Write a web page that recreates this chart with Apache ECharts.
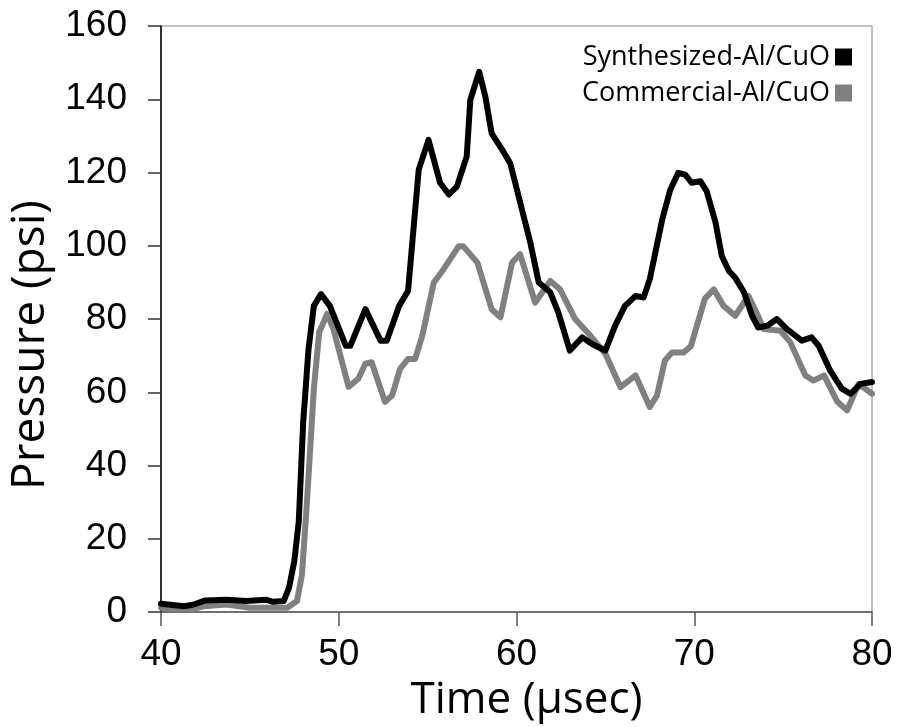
<!DOCTYPE html>
<html>
<head>
<meta charset="utf-8">
<script src="https://cdn.jsdelivr.net/npm/echarts@6/dist/echarts.min.js"></script>
<style>html,body{margin:0;padding:0;background:#fff}#c{width:898px;height:727px}</style>
</head>
<body>
<div id="c"></div>
<script>
var seriesNames = ['Synthesized-Al/CuO', 'Commercial-Al/CuO'];
var xTicks = [40, 50, 60, 70, 80];
var yTicks = [0, 20, 40, 60, 80, 100, 120, 140, 160];

var timeSynth = [40.0,41.3,41.8,42.5,43.7,44.8,45.9,46.3,46.9,47.2,47.5,47.75,48.0,48.3,48.6,49.0,49.5,50.4,50.65,51.5,52.35,52.7,53.4,53.9,54.5,55.05,55.7,56.2,56.65,57.2,57.4,57.9,58.25,58.6,59.2,59.65,60.78,61.25,61.9,62.35,63.0,63.7,64.25,65.0,65.55,66.1,66.7,67.15,67.5,68.2,68.65,69.1,69.5,69.85,70.35,70.7,71.2,71.55,71.95,72.3,72.8,73.25,73.6,74.1,74.65,75.2,76.05,76.6,77.0,77.65,78.3,78.8,79.35,80.0];
var pressureSynth = [2.3,1.6,2.0,3.2,3.4,3.0,3.4,2.8,3.0,6.6,13.9,24.7,51.9,71.8,83.6,86.8,83.6,72.7,72.7,82.7,74.1,74.1,83.6,87.7,120.8,128.9,117.2,114.0,116.2,124.4,139.8,147.5,140.7,130.7,126.2,122.5,100.8,90.0,87.3,81.8,71.4,75.0,73.2,71.4,78.2,83.6,86.3,85.9,90.9,107.2,115.3,119.9,119.4,117.2,117.6,114.9,106.3,97.2,93.1,91.3,87.3,80.9,77.7,78.2,80.0,77.3,74.1,75.0,72.7,65.9,61.0,59.6,62.3,62.8];

var timeComm = [40.0,41.65,42.4,43.7,45.0,47.1,47.65,47.93,48.2,48.6,48.9,49.35,49.7,50.55,51.1,51.5,51.85,52.6,53.0,53.45,53.9,54.3,54.7,55.35,55.9,56.75,57.0,57.8,58.6,59.1,59.75,60.2,61.05,61.9,62.45,63.3,64.15,65.0,65.85,66.7,67.5,67.9,68.35,68.75,69.4,69.8,70.6,71.1,71.65,72.3,73.05,73.5,73.9,74.85,75.4,76.25,76.7,77.3,78.05,78.6,79.25,80.0];
var pressureComm = [1.2,0.7,1.6,2.1,1.2,1.2,3.0,10.2,29.2,61.0,76.4,81.4,77.3,61.5,63.7,67.8,68.2,57.4,59.1,66.4,69.1,69.1,75.5,90.0,93.6,99.9,99.9,95.4,82.7,80.5,95.4,97.7,84.5,90.4,88.1,80.0,75.5,70.5,61.4,64.6,56.0,59.1,68.7,70.9,70.9,72.5,85.6,88.1,83.6,80.9,86.3,81.8,77.3,76.8,73.7,64.6,63.2,64.6,57.4,55.1,62.3,59.6];

function pairs(xs, ys) { return xs.map(function (x, i) { return [x, ys[i]]; }); }

var chart = echarts.init(document.getElementById('c'));
chart.setOption({
  animation: false,
  backgroundColor: '#fff',
  grid: { left: 161, right: 26, top: 26, bottom: 113, show: true, borderColor: '#b0b0b0', borderWidth: 1.5, backgroundColor: 'transparent' },
  legend: {
    orient: 'vertical', right: 41, top: 37, align: 'right', icon: 'rect',
    itemWidth: 17, itemHeight: 17, itemGap: 6, itemStyle: { borderWidth: 0 },
    textStyle: { fontFamily: 'Open Sans', fontSize: 27, color: '#000', lineHeight: 30 },
    data: seriesNames
  },
  xAxis: {
    type: 'value', min: 40, max: 80, interval: 10,
    name: 'Time (\u00b5sec)', nameLocation: 'middle', nameGap: 61,
    nameTextStyle: { fontFamily: 'Open Sans', fontSize: 44, color: '#000', padding: [0, 0, 0, 20] },
    axisLine: { lineStyle: { color: '#555', width: 1.5 } },
    axisTick: { show: true, inside: false, length: 14, lineStyle: { color: '#555', width: 1.5 } },
    axisLabel: { margin: 24, fontFamily: 'Liberation Sans', fontSize: 37, color: '#000',
      formatter: function (v) { return xTicks.indexOf(v) >= 0 ? String(v) : ''; } },
    splitLine: { show: false }
  },
  yAxis: {
    type: 'value', min: 0, max: 160, interval: 20,
    name: 'Pressure (psi)', nameLocation: 'middle', nameGap: 103,
    nameTextStyle: { fontFamily: 'Open Sans', fontSize: 46, color: '#000', padding: [0, 52, 0, 0] },
    axisLine: { show: true, lineStyle: { color: '#000', width: 1.5 } },
    axisTick: { show: true, inside: false, length: 13, lineStyle: { color: '#333', width: 1.5 } },
    axisLabel: { margin: 34, fontFamily: 'Liberation Sans', fontSize: 37, color: '#000',
      formatter: function (v) { return yTicks.indexOf(v) >= 0 ? String(v) : ''; } },
    splitLine: { show: false }
  },
  series: [
    { name: seriesNames[0], type: 'line', data: pairs(timeSynth, pressureSynth), showSymbol: false, symbol: 'none',
      itemStyle: { color: '#000' }, lineStyle: { color: '#000', width: 6, cap: 'round', join: 'round' }, z: 3 },
    { name: seriesNames[1], type: 'line', data: pairs(timeComm, pressureComm), showSymbol: false, symbol: 'none',
      itemStyle: { color: '#808080' }, lineStyle: { color: '#808080', width: 6, cap: 'round', join: 'round' }, z: 2 }
  ]
});
</script>
</body>
</html>
